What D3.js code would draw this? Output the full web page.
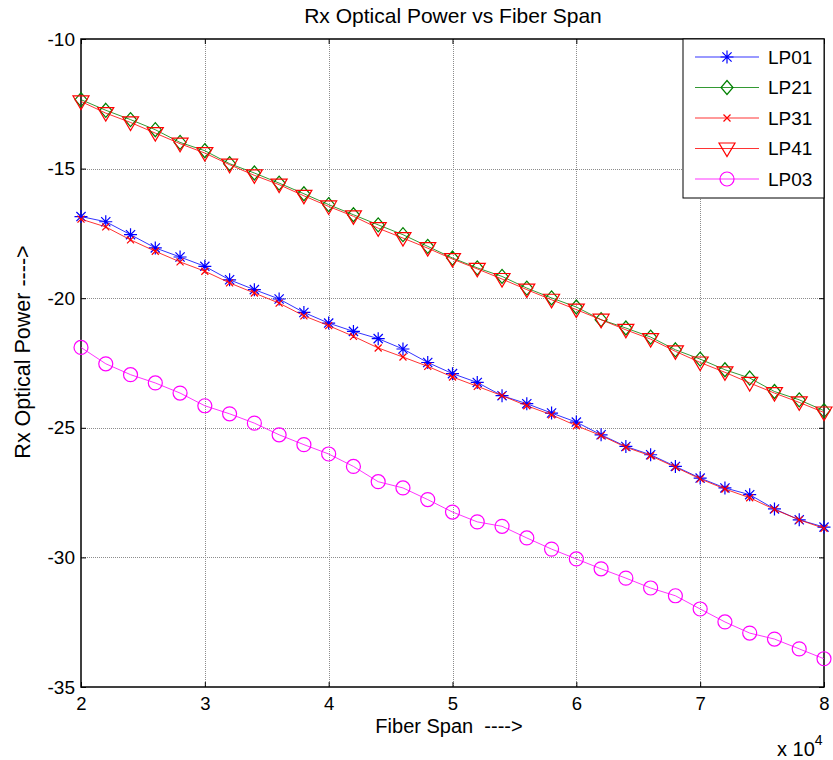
<!DOCTYPE html>
<html>
<head>
<meta charset="utf-8">
<script src="https://cdn.jsdelivr.net/npm/d3@7"></script>
<style>
  body { margin: 0; background: #fff; }
  text { font-family: Arial, "Liberation Sans", sans-serif; fill: #000; }
</style>
</head>
<body>
<div id="chart"></div>
<script>
// --- data (fiber span in units of 10^4) ---
const span = [2.0, 2.2, 2.4, 2.6, 2.8, 3.0, 3.2, 3.4, 3.6, 3.8, 4.0, 4.2, 4.4, 4.6, 4.8, 5.0,
              5.2, 5.4, 5.6, 5.8, 6.0, 6.2, 6.4, 6.6, 6.8, 7.0, 7.2, 7.4, 7.6, 7.8, 8.0];

const lp01 = [-16.85, -17.05, -17.55, -18.06, -18.41, -18.77, -19.29, -19.67, -20.03, -20.55, -20.96, -21.28,
              -21.56, -21.96, -22.48, -22.91, -23.25, -23.76, -24.07, -24.43, -24.78, -25.27, -25.72, -26.04,
              -26.49, -26.94, -27.32, -27.58, -28.13, -28.55, -28.83];
const lp21 = [-12.34, -12.75, -13.11, -13.50, -13.99, -14.31, -14.81, -15.17, -15.56, -15.97, -16.39, -16.78,
              -17.17, -17.55, -18.00, -18.45, -18.83, -19.16, -19.61, -19.99, -20.34, -20.83, -21.15, -21.50,
              -21.99, -22.35, -22.76, -23.08, -23.60, -23.92, -24.34];
const lp31 = [-16.95, -17.25, -17.75, -18.19, -18.60, -18.96, -19.41, -19.80, -20.19, -20.68, -21.06, -21.47,
              -21.92, -22.27, -22.63, -23.04, -23.40, -23.76, -24.15, -24.50, -24.92, -25.30, -25.75, -26.08,
              -26.52, -26.97, -27.36, -27.70, -28.15, -28.55, -28.88];
const lp41 = [-12.41, -12.86, -13.22, -13.63, -14.04, -14.40, -14.85, -15.26, -15.62, -16.05, -16.46, -16.84,
              -17.30, -17.68, -18.07, -18.49, -18.87, -19.26, -19.67, -20.06, -20.44, -20.83, -21.22, -21.58,
              -22.05, -22.48, -22.86, -23.27, -23.66, -24.02, -24.41];
const lp03 = [-21.90, -22.53, -22.95, -23.27, -23.66, -24.15, -24.46, -24.82, -25.27, -25.65, -26.01, -26.49,
              -27.08, -27.32, -27.77, -28.25, -28.63, -28.80, -29.25, -29.68, -30.06, -30.44, -30.80, -31.18,
              -31.48, -31.99, -32.49, -32.92, -33.15, -33.53, -33.91];

const xTicks = [2, 3, 4, 5, 6, 7, 8];
const yTicks = [-35, -30, -25, -20, -15, -10];

const series = [
  { name: "LP01", values: lp01, color: "#0000ff", marker: "star" },
  { name: "LP21", values: lp21, color: "#008000", marker: "diamond" },
  { name: "LP31", values: lp31, color: "#ff0000", marker: "cross" },
  { name: "LP41", values: lp41, color: "#ff0000", marker: "tridown" },
  { name: "LP03", values: lp03, color: "#ff00ff", marker: "circle" }
];

// --- setup ---
const W = 833, H = 760;
const pLeft = 81, pRight = 824, pTop = 39, pBottom = 687;

const svg = d3.select("#chart").append("svg").attr("width", W).attr("height", H);

const x = d3.scaleLinear().domain([2, 8]).range([pLeft, pRight]);
const y = d3.scaleLinear().domain([-35, -10]).range([pBottom, pTop]);

// grid
const grid = svg.append("g").attr("stroke", "#8c8c8c").attr("stroke-width", 1).attr("stroke-dasharray", "1,1");
grid.selectAll(".gx").data(xTicks.slice(1, -1)).join("line")
  .attr("x1", d => Math.round(x(d)) + 0.5).attr("x2", d => Math.round(x(d)) + 0.5)
  .attr("y1", pTop).attr("y2", pBottom);
grid.selectAll(".gy").data(yTicks.slice(1, -1)).join("line")
  .attr("y1", d => Math.round(y(d)) + 0.5).attr("y2", d => Math.round(y(d)) + 0.5)
  .attr("x1", pLeft).attr("x2", pRight);

// axes: bottom and left with labels, top/right mirrored ticks, all inward
const tickLen = 5;
const fontFam = "Arial, 'Liberation Sans', sans-serif";
const plain = d => String(d); // keep ascii hyphen like the original
svg.append("g").attr("transform", `translate(0,${pBottom})`)
  .call(d3.axisBottom(x).tickValues(xTicks).tickSize(-tickLen).tickPadding(10).tickFormat(plain))
  .call(g => g.select(".domain").remove())
  .call(g => g.selectAll("text").attr("font-size", 18.5).attr("font-family", fontFam).attr("fill", "#000"));
svg.append("g").attr("transform", `translate(${pLeft},0)`)
  .call(d3.axisLeft(y).tickValues(yTicks).tickSize(-tickLen).tickPadding(6).tickFormat(plain))
  .call(g => g.select(".domain").remove())
  .call(g => g.selectAll("text").attr("font-size", 19).attr("font-family", fontFam).attr("fill", "#000"));
svg.append("g").attr("transform", `translate(0,${pTop})`)
  .call(d3.axisTop(x).tickValues(xTicks).tickSize(-tickLen).tickFormat(""))
  .call(g => g.select(".domain").remove());
svg.append("g").attr("transform", `translate(${pRight},0)`)
  .call(d3.axisRight(y).tickValues(yTicks).tickSize(-tickLen).tickFormat(""))
  .call(g => g.select(".domain").remove());

// box
svg.append("rect").attr("x", pLeft).attr("y", pTop).attr("width", pRight - pLeft).attr("height", pBottom - pTop)
  .attr("fill", "none").attr("stroke", "#000").attr("stroke-width", 1.5);

// markers
function markerPath(type) {
  switch (type) {
    case "star": return "M-6.5,0H6.5M0,-6.5V6.5M-4.6,-4.6L4.6,4.6M-4.6,4.6L4.6,-4.6";
    case "diamond": return "M0,-7L6,0L0,7L-6,0Z";
    case "cross": return "M-3.5,-3.5L3.5,3.5M-3.5,3.5L3.5,-3.5";
    case "tridown": return "M-8,-5.5H8L0,8Z";
    case "circle": return "M7,0A7,7 0 1,1 -7,0A7,7 0 1,1 7,0Z";
  }
}

const line = d3.line().x(d => x(d[0])).y(d => y(d[1]));

series.forEach(s => {
  const pts = span.map((v, i) => [v, s.values[i]]);
  const g = svg.append("g");
  g.append("path").datum(pts).attr("d", line)
    .attr("fill", "none").attr("stroke", s.color).attr("stroke-width", 1).attr("stroke-opacity", 0.8);
  g.selectAll("path.m").data(pts).join("path").attr("class", "m")
    .attr("transform", d => `translate(${x(d[0])},${y(d[1])})`)
    .attr("d", markerPath(s.marker))
    .attr("fill", "none").attr("stroke", s.color).attr("stroke-width", 1.2);
});

// legend
const lg = svg.append("g");
lg.append("rect").attr("x", 683).attr("y", pTop).attr("width", pRight - 683).attr("height", 198 - pTop)
  .attr("fill", "#fff").attr("stroke", "#000").attr("stroke-width", 1);
const legY = d3.scalePoint().domain(series.map(s => s.name)).range([57, 179]);
series.forEach(s => {
  const yy = legY(s.name);
  lg.append("line").attr("x1", 695).attr("x2", 759).attr("y1", yy).attr("y2", yy)
    .attr("stroke", s.color).attr("stroke-width", 1).attr("stroke-opacity", 0.8);
  lg.append("path").attr("transform", `translate(727,${yy})`).attr("d", markerPath(s.marker))
    .attr("fill", "none").attr("stroke", s.color).attr("stroke-width", 1.2);
  lg.append("text").attr("x", 768).attr("y", yy).attr("dy", "0.36em").attr("font-size", 19).text(s.name);
});

// titles
svg.append("text").attr("x", 453).attr("y", 23).attr("text-anchor", "middle")
  .attr("font-size", 21).text("Rx Optical Power vs Fiber Span");
svg.append("text").attr("x", 449).attr("y", 733).attr("text-anchor", "middle")
  .attr("font-size", 20).style("white-space", "pre").text("Fiber Span  ---->");
svg.append("text").attr("transform", `translate(30,352) rotate(-90)`).attr("text-anchor", "middle")
  .attr("font-size", 21.5).text("Rx Optical Power ---->");
const ex = svg.append("text").attr("x", 777).attr("y", 756).attr("font-size", 20);
ex.append("tspan").text("x 10");
ex.append("tspan").attr("dy", -11).attr("font-size", 14).text("4");
</script>
</body>
</html>
